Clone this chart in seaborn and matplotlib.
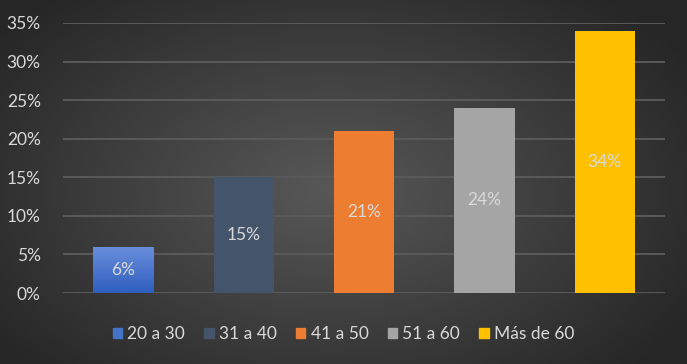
import numpy as np
import pandas as pd
import matplotlib
matplotlib.use("Agg")
import matplotlib.pyplot as plt
import seaborn as sns
from matplotlib.ticker import PercentFormatter, MultipleLocator

categories = ["20 a 30", "31 a 40", "41 a 50", "51 a 60", "Más de 60"]
values = [0.06, 0.15, 0.21, 0.24, 0.34]
colors = ["#4472C4", "#44546A", "#ED7D31", "#A5A5A5", "#FFC000"]

df = pd.DataFrame({"grupo": categories, "pct": values})

sns.set_theme(style="white")
plt.rcParams["font.family"] = ["Lato", "DejaVu Sans"]

fig = plt.figure(figsize=(6.87, 3.64), dpi=100)

# radial gradient background
bg = fig.add_axes([0, 0, 1, 1], zorder=-10)
yy, xx = np.mgrid[0:364, 0:687]
cx, cy = 330, 190
r = np.sqrt(((xx - cx) / 420.0) ** 2 + ((yy - cy) / 260.0) ** 2)
c0 = np.array([0x58, 0x58, 0x58]) / 255.0
c1 = np.array([0x26, 0x26, 0x26]) / 255.0
t = np.clip(r, 0, 1)[..., None]
img = c0 * (1 - t) + c1 * t
bg.imshow(img, aspect="auto", extent=[0, 1, 0, 1], origin="upper")
bg.axis("off")

ax = fig.add_axes([63 / 687, 1 - 293 / 364, 602 / 687, 270 / 364])
ax.patch.set_alpha(0)

sns.barplot(data=df, x="grupo", y="pct", hue="grupo", palette=colors,
            width=0.5, saturation=1, legend=False, ax=ax, zorder=3,
            linewidth=0, edgecolor="none")

ax.set_ylim(0, 0.35)
ax.yaxis.set_major_locator(MultipleLocator(0.05))
ax.yaxis.set_major_formatter(PercentFormatter(1.0, decimals=0))
ax.grid(axis="y", color="#5a5a5a", linewidth=1.4, zorder=0)
ax.set_axisbelow(True)
for s in ax.spines.values():
    s.set_visible(False)
ax.set_xlabel("")
ax.set_ylabel("")
ax.set_xticks([])
ax.tick_params(axis="y", colors="#d9d9d9", labelsize=12.5, length=0, pad=16)

# gradient on first bar
p0 = ax.patches[0]
x0, w, h = p0.get_x(), p0.get_width(), p0.get_height()
grad = np.linspace(0, 1, 100)[:, None]
top = np.array([0x6a, 0x8f, 0xdc]) / 255.0
bot = np.array([0x2f, 0x5e, 0xbf]) / 255.0
gimg = top * (1 - grad[..., None]) + bot * grad[..., None]
gimg = np.repeat(gimg, 2, axis=1)
im = ax.imshow(gimg, extent=[x0, x0 + w, 0, h], aspect="auto", origin="upper", zorder=3.5)
im.set_clip_path(p0)
ax.set_xlim(-0.5, 4.5)
ax.set_ylim(0, 0.35)

for i, v in enumerate(values):
    ax.text(i, v / 2, f"{round(v * 100)}%", ha="center", va="center",
            color="#d9d9d9", fontsize=12.5, zorder=5)

handles = [plt.Rectangle((0, 0), 1, 1, color=c) for c in colors]
leg = fig.legend(handles, categories, loc="center", bbox_to_anchor=(0.5, 1 - 334 / 364),
                 ncol=5, frameon=False, fontsize=12.5, handlelength=0.55, handleheight=0.55,
                 handletextpad=0.3, columnspacing=1.1)
for txt in leg.get_texts():
    txt.set_color("#d9d9d9")

fig.savefig("out.png", dpi=100)
